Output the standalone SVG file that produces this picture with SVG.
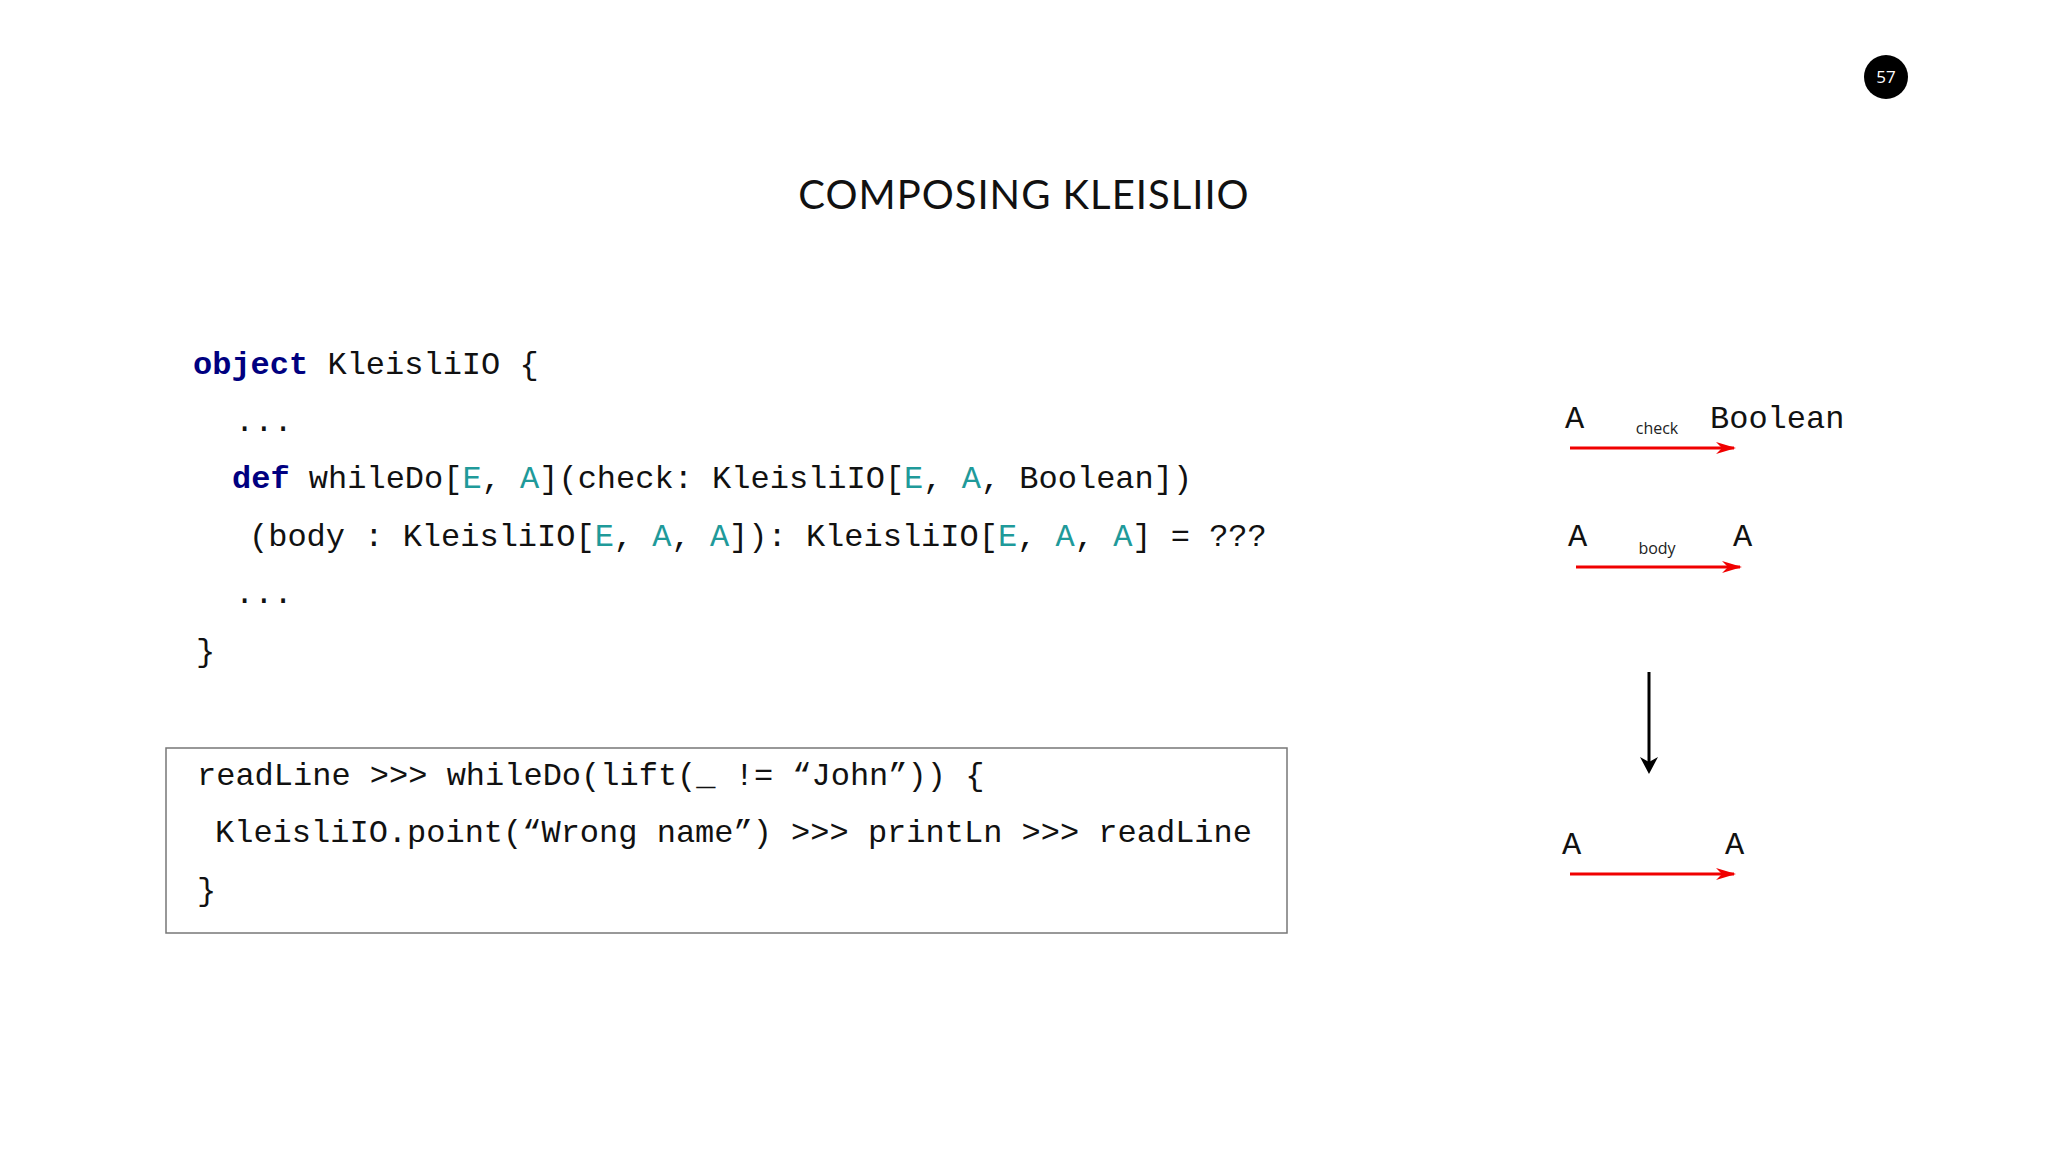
<svg xmlns="http://www.w3.org/2000/svg" width="2048" height="1152" viewBox="0 0 2048 1152">
<style>
.code{font-family:"Liberation Mono",monospace;font-size:32px;fill:#111;white-space:pre}
.kw{fill:#000080;font-weight:bold}
.tp{fill:#1f9a9a}
.lbl{font-family:"Liberation Mono",monospace;font-size:32px;fill:#111}
.sm{font-family:"Open Sans",sans-serif;font-size:16px;fill:#222;text-anchor:middle}
.red{stroke:#f00000;stroke-width:3;fill:none}
</style>
<defs>
<marker id="ra" viewBox="0 0 20 12" refX="18" refY="6" markerWidth="20" markerHeight="12" markerUnits="userSpaceOnUse" orient="auto"><path d="M0,0 L20,6 L0,12 L6,6 Z" fill="#f00000"/></marker>
<marker id="ba" viewBox="0 0 16 16" refX="8" refY="14" markerWidth="16" markerHeight="16" markerUnits="userSpaceOnUse" orient="auto-start-reverse"><path d="M0,0 L8,16 L16,0 L8,4 Z" fill="#000" transform="rotate(-90 8 8)"/></marker>
</defs>
<rect width="2048" height="1152" fill="#fff"/>
<g id="badge"><circle cx="1886" cy="77" r="22" fill="#000"/><text x="1886" y="83" font-family="Open Sans,sans-serif" font-size="17" fill="#fff" text-anchor="middle">57</text></g>
<g id="title"><text x="1024" y="209" font-family="Lato,'Open Sans',sans-serif" font-size="40" fill="#111" text-anchor="middle" letter-spacing="1">COMPOSING KLEISLIIO</text></g>
<g id="code">
<text class="code" x="193" y="374"><tspan class="kw">object</tspan> KleisliIO {</text>
<text class="code" x="235" y="431">...</text>
<text class="code" x="232" y="488"><tspan class="kw">def</tspan> whileDo[<tspan class="tp">E</tspan>, <tspan class="tp">A</tspan>](check: KleisliIO[<tspan class="tp">E</tspan>, <tspan class="tp">A</tspan>, Boolean])</text>
<text class="code" x="249" y="546">(body : KleisliIO[<tspan class="tp">E</tspan>, <tspan class="tp">A</tspan>, <tspan class="tp">A</tspan>]): KleisliIO[<tspan class="tp">E</tspan>, <tspan class="tp">A</tspan>, <tspan class="tp">A</tspan>] = ???</text>
<text class="code" x="235" y="603">...</text>
<text class="code" x="196" y="661">}</text>
</g>
<g id="example">
<rect x="166" y="748" width="1121" height="185" fill="#fff" stroke="#777" stroke-width="1.5"/>
<text class="code" x="197" y="785">readLine &gt;&gt;&gt; whileDo(lift(_ != “John”)) {</text>
<text class="code" x="215" y="842">KleisliIO.point(“Wrong name”) &gt;&gt;&gt; printLn &gt;&gt;&gt; readLine</text>
<text class="code" x="197" y="900">}</text>
</g>
<g id="check"><text class="lbl" x="1565" y="428">A</text><text class="lbl" x="1710" y="428">Boolean</text><text class="sm" x="1657" y="434">check</text></g>
<g id="body"><text class="lbl" x="1568" y="546">A</text><text class="lbl" x="1733" y="546">A</text><text class="sm" x="1657" y="554">body</text></g>
<g id="result"><text class="lbl" x="1562" y="854">A</text><text class="lbl" x="1725" y="854">A</text></g>
<g id="connectors">
<line class="red" x1="1570" y1="448" x2="1734" y2="448" marker-end="url(#ra)"/>
<line class="red" x1="1576" y1="567" x2="1740" y2="567" marker-end="url(#ra)"/>
<line class="red" x1="1570" y1="874" x2="1734" y2="874" marker-end="url(#ra)"/>
<line x1="1649" y1="672" x2="1649" y2="770" stroke="#000" stroke-width="3"/>
<path d="M1640,757 L1649,774 L1658,757 L1649,762 Z" fill="#000"/>
</g>
</svg>
